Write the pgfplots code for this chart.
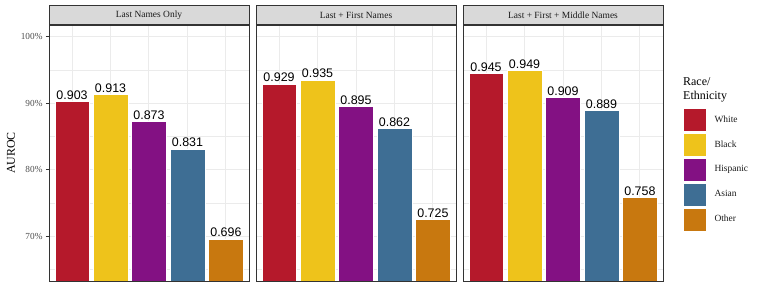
\documentclass[border=0pt]{standalone}
\usepackage{pgfplots}
\pgfplotsset{compat=1.18}
\usepackage{fontspec}
\setmainfont{Liberation Serif}
\newfontfamily\labelfont{Liberation Sans}
\definecolor{cWhite}{HTML}{B5192B}
\definecolor{cBlack}{HTML}{EEC31B}
\definecolor{cHisp}{HTML}{831183}
\definecolor{cAsian}{HTML}{3E6E94}
\definecolor{cOther}{HTML}{C8780F}
\definecolor{gray20}{HTML}{333333}
\definecolor{gray30}{HTML}{4D4D4D}
\definecolor{gray85}{HTML}{D9D9D9}
\definecolor{gray92}{HTML}{EBEBEB}
\definecolor{gray10}{HTML}{1A1A1A}

\pgfplotsset{
  bcol/.style={fill=#1, draw=white, line width=0.5bp, bar shift=0pt,
    legend image code/.code={\fill[fill=#1,draw=white,line width=0.5bp] (0bp,-11.5bp) rectangle (23bp,11.5bp);}},
  panel/.style={
    scale only axis, width=200bp, height=256bp,
    xmin=0.4, xmax=5.6, ymin=0.6325, ymax=1.0175,
    ybar, bar width=0.9,
    xtick={1,2,3,4,5}, xticklabels={},
    xtick style={draw=none},
    ytick={0.7,0.8,0.9,1.0},
    minor ytick={0.65,0.75,0.85,0.95},
    ytick pos=left,
    xmajorgrids, ymajorgrids, yminorgrids,
    major grid style={gray92, line width=1bp},
    minor grid style={gray92, line width=0.5bp},
    axis line style={gray20, line width=0.6bp},
    tick align=outside, major tick length=3bp, minor tick length=0pt,
    ytick style={gray20, line width=0.6bp},
    /pgf/number format/assume math mode=true,
    nodes near coords={\pgfmathprintnumber[fixed,precision=3,fixed zerofill]{\pgfplotspointmeta}},
    nodes near coords style={font=\labelfont\fontsize{12.5}{14}\selectfont, anchor=south, inner sep=0pt, yshift=1.7bp, text=black},
    every axis title shift=0pt,
    title style={at={(axis description cs:0.5,1)}, anchor=south, yshift=0pt, draw=gray20, line width=0.6bp, fill=gray85, minimum width=200bp, minimum height=19bp, inner sep=0pt, font=\fontsize{9.5}{11}\selectfont, text=gray10},
  }
}

\begin{document}
\begin{tikzpicture}
\useasboundingbox (0,0) rectangle (761bp,305bp);

\begin{axis}[panel, at={(49bp,24bp)}, anchor=south west,
  title={Last Names Only},
  yticklabels={70\%,80\%,90\%,100\%},
  yticklabel style={font=\fontsize{9.3}{11}\selectfont, text=gray30},
  ylabel={AUROC},
  every axis y label/.style={at={(axis description cs:-0.19,0.5)}, rotate=90, anchor=center, font=\fontsize{12}{14}\selectfont},
]
\addplot[bcol=cWhite] coordinates {(1,0.903)};
\addplot[bcol=cBlack] coordinates {(2,0.913)};
\addplot[bcol=cHisp] coordinates {(3,0.873)};
\addplot[bcol=cAsian] coordinates {(4,0.831)};
\addplot[bcol=cOther] coordinates {(5,0.696)};
\end{axis}

\begin{axis}[panel, at={(256bp,24bp)}, anchor=south west,
  title={Last + First Names},
  yticklabels={}, ytick style={draw=none},
]
\addplot[bcol=cWhite] coordinates {(1,0.929)};
\addplot[bcol=cBlack] coordinates {(2,0.935)};
\addplot[bcol=cHisp] coordinates {(3,0.895)};
\addplot[bcol=cAsian] coordinates {(4,0.862)};
\addplot[bcol=cOther] coordinates {(5,0.725)};
\end{axis}

\begin{axis}[panel, at={(463bp,24bp)}, anchor=south west,
  title={Last + First + Middle Names},
  yticklabels={}, ytick style={draw=none},
  legend style={at={(axis description cs:1.1,0.6758)}, anchor=north west, draw=none, fill=none, inner sep=0pt, outer sep=0pt, row sep=1.4bp, column sep=0bp, font=\fontsize{9.5}{11}\selectfont, nodes={inner sep=0pt, text=gray10}},
  legend cell align=left,
]
\addplot[bcol=cWhite] coordinates {(1,0.945)};
\addlegendentry{\hspace{8bp}White}
\addplot[bcol=cBlack] coordinates {(2,0.949)};
\addlegendentry{\hspace{8bp}Black}
\addplot[bcol=cHisp] coordinates {(3,0.909)};
\addlegendentry{\hspace{8bp}Hispanic}
\addplot[bcol=cAsian] coordinates {(4,0.889)};
\addlegendentry{\hspace{8bp}Asian}
\addplot[bcol=cOther] coordinates {(5,0.758)};
\addlegendentry{\hspace{8bp}Other}
\end{axis}

\node[anchor=base west, inner sep=0pt, font=\fontsize{12}{14}\selectfont] at (683bp,219bp) {Race/};
\node[anchor=base west, inner sep=0pt, font=\fontsize{12}{14}\selectfont] at (683bp,205.5bp) {Ethnicity};
\end{tikzpicture}
\end{document}
